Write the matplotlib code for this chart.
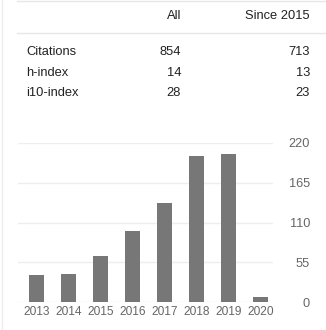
import matplotlib.pyplot as plt
from matplotlib.lines import Line2D

plt.rcParams['font.family'] = ['Liberation Sans', 'DejaVu Sans']

# data
years = ["2013", "2014", "2015", "2016", "2017", "2018", "2019", "2020"]
citations = [37, 39, 64, 98, 137, 202, 204, 7]
y_ticks = [0, 55, 110, 165, 220]

row_names = ["Citations", "h-index", "i10-index"]
all_vals = ["854", "14", "28"]
since_vals = ["713", "13", "23"]

W, H = 326, 330
fig = plt.figure(figsize=(W / 100, H / 100), dpi=100)


def fx(px):
    return px / W


def fy(py):
    return 1 - py / H


# frame lines of the widget
fig.add_artist(Line2D([fx(1.5), fx(1.5)], [0, 1], color="#eeeeee", lw=1))
fig.add_artist(Line2D([fx(17), 1], [fy(0.5), fy(0.5)], color="#e6e6e6", lw=1))
fig.add_artist(Line2D([fx(17), 1], [fy(33), fy(33)], color="#e6e6e6", lw=1))

# header and table
txt = dict(fontsize=9.3, color="#222222", va="center")
fig.text(fx(181), fy(16), "All", ha="right", **txt)
fig.text(fx(310), fy(16), "Since 2015", ha="right", **txt)
for i, name in enumerate(row_names):
    y = fy(52 + i * 20.5)
    fig.text(fx(26), y, name, ha="left", **txt)
    fig.text(fx(181), y, all_vals[i], ha="right", **txt)
    fig.text(fx(310), y, since_vals[i], ha="right", **txt)

# bar chart
ax = fig.add_axes([fx(18), fy(302.3), fx(273 - 18), (302.3 - 142.7) / H])
x = list(range(len(years)))
ax.bar(x, citations, width=15 / 32, color="#777777", zorder=2)
ax.set_xlim(-0.578, 7.39)
ax.set_ylim(0, 220)
ax.set_yticks(y_ticks)
ax.grid(axis="y", color="#eeeeee", lw=1, zorder=0)
ax.set_xticks(x)
ax.set_xticklabels(years, fontsize=8.6, color="#666666")
for s in ax.spines.values():
    s.set_visible(False)
ax.yaxis.tick_right()
ax.tick_params(axis="y", length=0, pad=26.6, labelsize=9.2, labelcolor="#666666")
ax.tick_params(axis="x", length=0, pad=2.5)
for lab in ax.get_yticklabels():
    lab.set_horizontalalignment("right")

fig.savefig("out.png", dpi=100)
